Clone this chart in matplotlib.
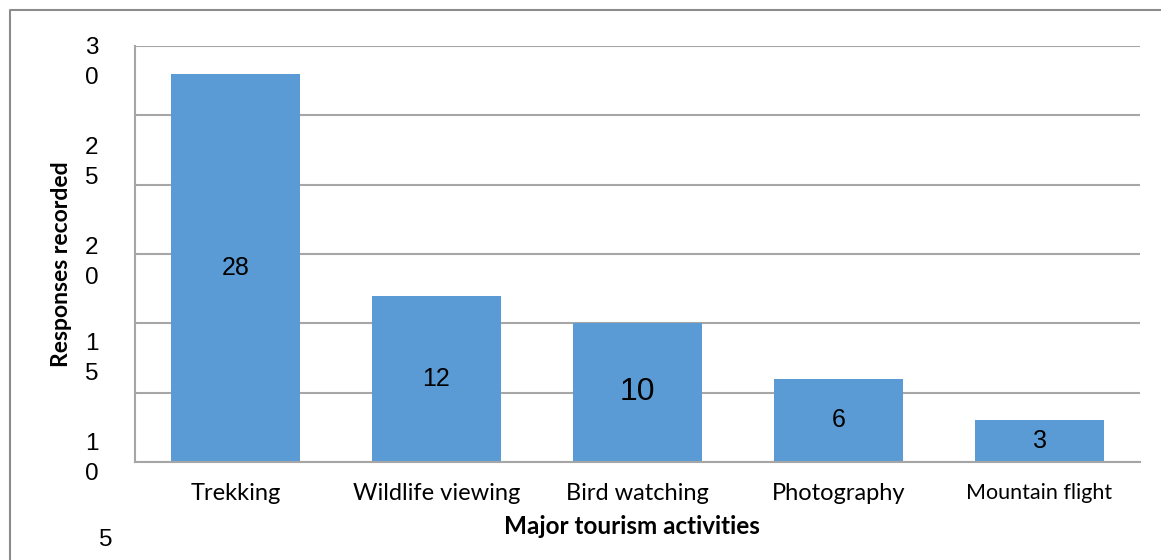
import matplotlib
matplotlib.use("Agg")
import matplotlib.pyplot as plt
from matplotlib.lines import Line2D

# data
activities = ["Trekking", "Wildlife viewing", "Bird watching", "Photography", "Mountain flight"]
responses = [28, 12, 10, 6, 3]
# the y tick labels are wrapped digit by digit in the original
ytick_labels = ["3\n0", "2\n5", "2\n0", "1\n5", "1\n0", "5"]

W, H = 1161, 560
fig = plt.figure(figsize=(W / 100, H / 100), dpi=100)
ax = fig.add_axes([135 / W, 1 - 462 / H, (1140 - 135) / W, (462 - 46) / H])

bar_color = "#5B9BD5"
grid_color = "#A6A6A6"
x = range(len(activities))
bars = ax.bar(x, responses, width=0.64, color=bar_color, zorder=2)

ax.set_xlim(-0.5, len(activities) - 0.5)
ax.set_ylim(0, 30)
ax.set_yticks(range(0, 31, 5))
ax.set_yticklabels([])
ax.yaxis.grid(True, color=grid_color, linewidth=1.5, zorder=0)
ax.tick_params(axis="both", length=0)
for side in ["top", "right"]:
    ax.spines[side].set_visible(False)
for side in ["left", "bottom"]:
    ax.spines[side].set_color(grid_color)
    ax.spines[side].set_linewidth(1.5)

ax.set_xticks(list(x))
ax.set_xticklabels(activities, fontsize=17, family="Lato")
ax.tick_params(axis="x", pad=15)
ax.get_xticklabels()[-1].set_fontsize(15.5)

labels = ax.bar_label(bars, label_type="center", fontsize=18, family="Liberation Sans")
labels[2].set_fontsize(23)
labels[2].set_y(labels[2].get_position()[1] + 0.7)

# broken y tick labels, placed as in the original
label_tops = [47, 147, 247, 343, 443]
for lab, top in zip(ytick_labels[:5], label_tops):
    fig.text(92 / W, 1 - (top - 10) / H, lab, ha="center", va="top", fontsize=17.5,
             family="Liberation Sans", linespacing=1.5)
fig.text(106 / W, 1 - 540 / H, ytick_labels[5], ha="center", va="center", fontsize=17.5,
         family="Liberation Sans")

fig.text(61 / W, 1 - 264 / H, "Responses recorded", rotation=90, ha="center", va="center",
         fontsize=16.5, fontweight="bold", family="Lato")
fig.text(632 / W, 1 - 527 / H, "Major tourism activities", ha="center", va="center",
         fontsize=17.5, fontweight="bold", family="Lato")

# outer frame (top and left edges only)
fig.add_artist(Line2D([10 / W, 10 / W, 1], [0, 1 - 10 / H, 1 - 10 / H],
                      transform=fig.transFigure, color="#8C8C8C", linewidth=1.5))

fig.savefig("out.png", dpi=100)
